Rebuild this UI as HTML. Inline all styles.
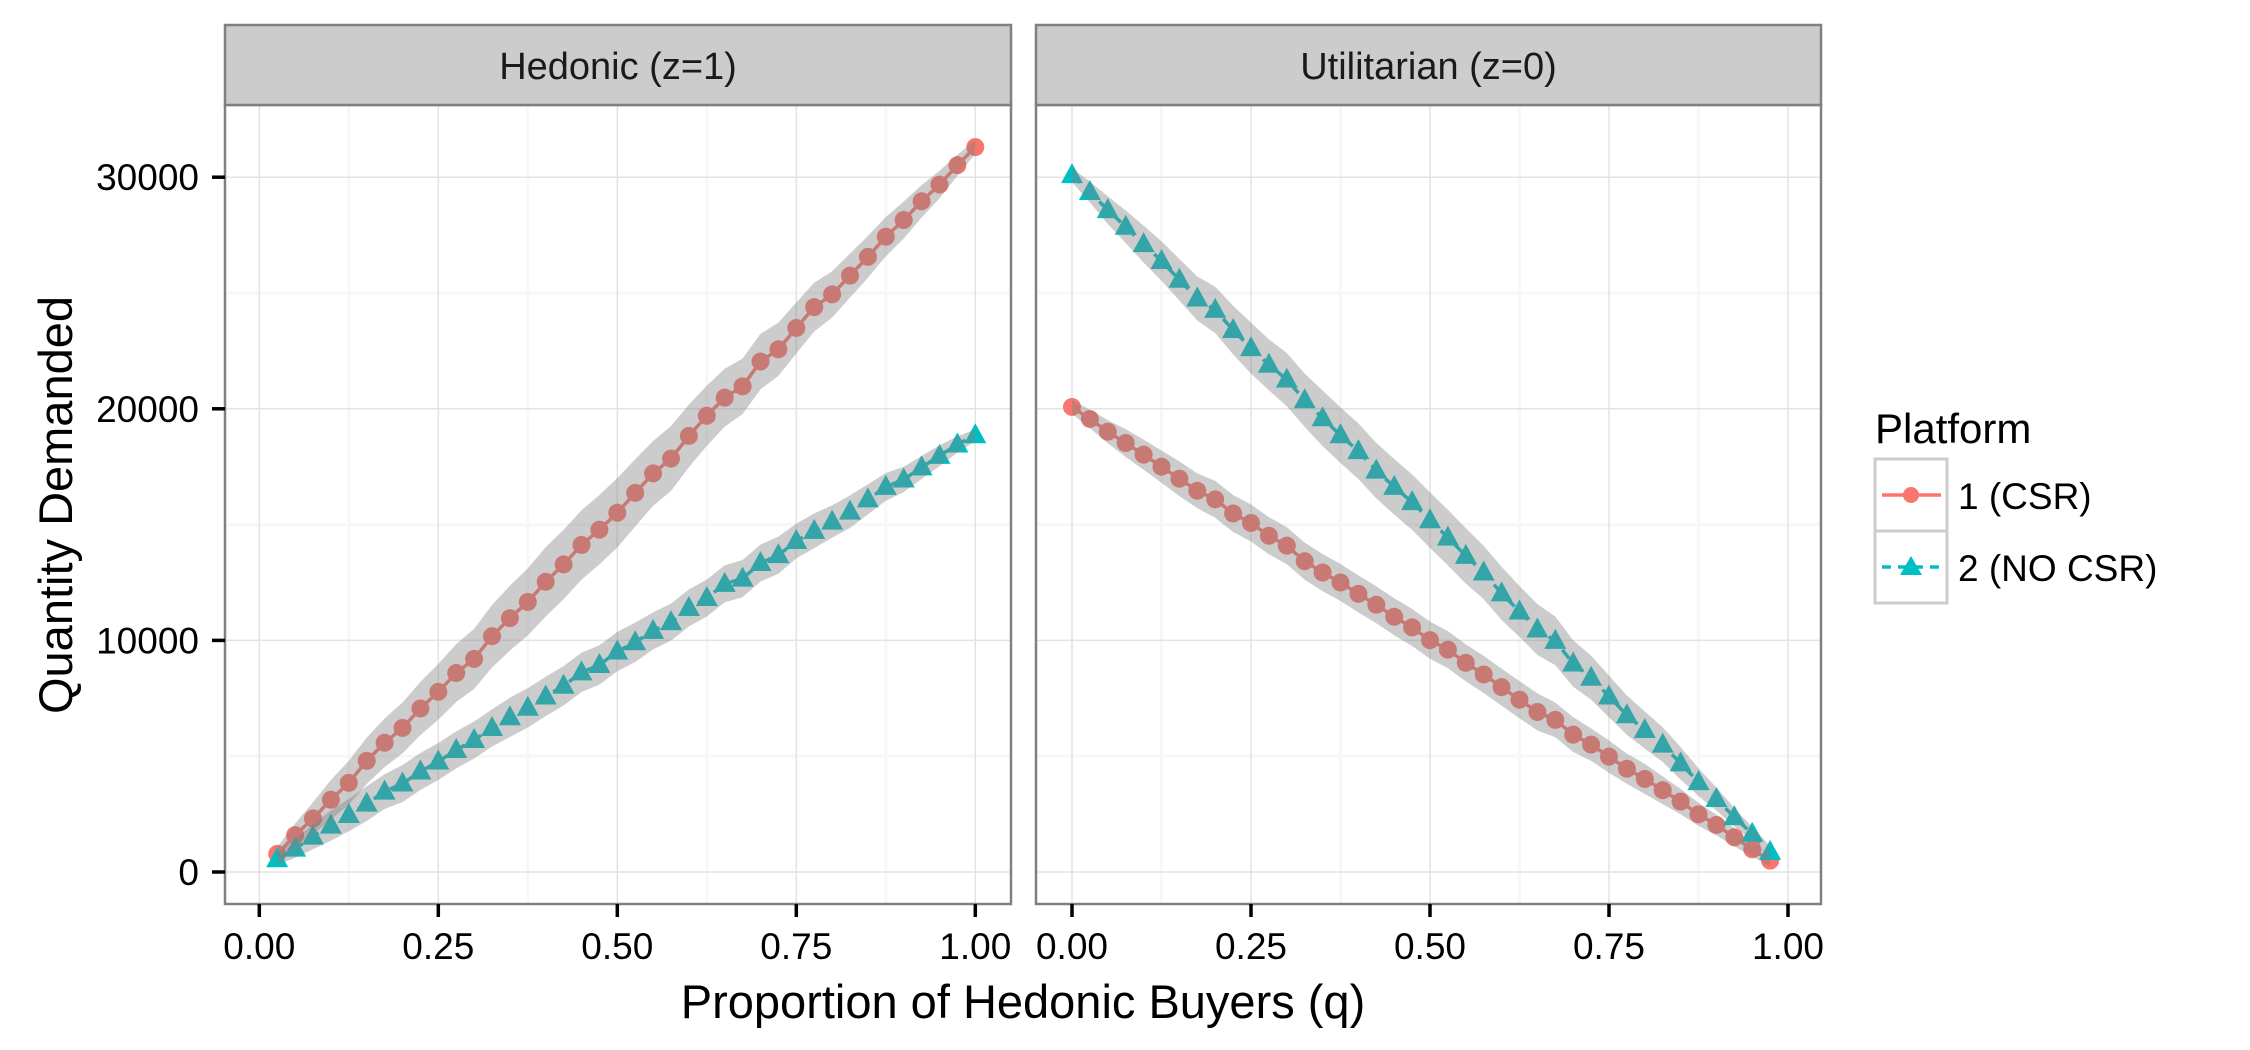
<!DOCTYPE html>
<html><head><meta charset="utf-8"><style>
html,body{margin:0;padding:0;background:#fff;}
svg{display:block;font-family:"Liberation Sans",Arial,sans-serif;}
</style></head><body>
<svg id="chart" width="2250" height="1050" viewBox="0 0 2250 1050" xmlns="http://www.w3.org/2000/svg"></svg>
<script>
const qHed = [0.025,0.05,0.075,0.1,0.125,0.15,0.175,0.2,0.225,0.25,0.275,0.3,0.325,0.35,0.375,0.4,0.425,0.45,0.475,0.5,0.525,0.55,0.575,0.6,0.625,0.65,0.675,0.7,0.725,0.75,0.775,0.8,0.825,0.85,0.875,0.9,0.925,0.95,0.975,1.0];
const qUtil = [0,0.025,0.05,0.075,0.1,0.125,0.15,0.175,0.2,0.225,0.25,0.275,0.3,0.325,0.35,0.375,0.4,0.425,0.45,0.475,0.5,0.525,0.55,0.575,0.6,0.625,0.65,0.675,0.7,0.725,0.75,0.775,0.8,0.825,0.85,0.875,0.9,0.925,0.95,0.975];
const hedCSR = [780,1590,2310,3120,3850,4800,5580,6220,7060,7780,8590,9200,10180,10960,11660,12530,13280,14120,14780,15510,16370,17210,17850,18830,19700,20480,20970,22040,22570,23490,24390,24940,25750,26560,27430,28150,28960,29680,30520,31300];
const hedNoCSR = [550,1010,1530,2000,2460,2950,3470,3820,4340,4770,5270,5700,6220,6680,7090,7580,8040,8620,8940,9520,9920,10410,10790,11400,11830,12440,12670,13340,13680,14290,14730,15130,15560,16090,16630,16950,17470,17970,18460,18860];
const utilCSR = [20080,19560,19010,18520,18020,17500,16980,16460,16090,15480,15070,14520,14090,13420,12930,12500,12010,11540,11020,10560,10010,9600,9030,8530,7980,7440,6910,6570,5930,5500,4980,4460,4020,3530,3040,2490,2030,1500,980,490];
const utilNoCSR = [30090,29360,28580,27860,27110,26380,25570,24760,24270,23400,22620,21900,21260,20370,19590,18860,18170,17330,16630,15970,15190,14440,13650,12930,12030,11250,10470,9980,9000,8390,7580,6770,6130,5500,4690,3880,3150,2370,1650,870];
const bandHedCSR = [300,500,700,850,950,1000,1050,1100,1150,1200,1250,1300,1350,1400,1450,1500,1500,1500,1500,1500,1450,1400,1400,1350,1300,1250,1200,1200,1150,1100,1050,1000,950,900,850,800,700,600,450,300];
const bandHedNoCSR = [250,400,550,650,700,750,750,800,800,800,800,800,800,850,850,850,850,850,850,850,850,800,800,800,800,800,800,800,800,750,750,700,700,650,600,550,500,450,350,250];
const bandUtilCSR = [300,400,500,600,650,700,750,750,800,800,800,800,800,800,800,800,800,800,800,800,800,800,800,800,800,800,800,750,750,700,700,650,650,600,550,500,450,400,300,250];
const bandUtilNoCSR = [300,450,600,700,800,850,900,950,1000,1050,1100,1100,1150,1150,1200,1200,1200,1200,1200,1200,1200,1200,1200,1150,1150,1100,1100,1050,1000,950,900,850,800,750,700,600,500,400,300,250];
const xTicks = [0,0.25,0.5,0.75,1];
const xTickLabels = ["0.00","0.25","0.50","0.75","1.00"];
const yTicks = [0,10000,20000,30000];
const yTickLabels = ["0","10000","20000","30000"];

const NS="http://www.w3.org/2000/svg";
const svg=document.getElementById('chart');
function mk(tag,attrs,parent){const e=document.createElementNS(NS,tag);for(const k in attrs)e.setAttribute(k,attrs[k]);(parent||svg).appendChild(e);return e;}
const yScale=v=>872-v*231.6/10000;
const panels=[
 {left:225,right:1011,x0:259.3,title:"Hedonic (z=1)",name:"hedonic",q:qHed,red:hedCSR,teal:hedNoCSR,rb:bandHedCSR,tb:bandHedNoCSR},
 {left:1036,right:1821,x0:1072,title:"Utilitarian (z=0)",name:"utilitarian",q:qUtil,red:utilCSR,teal:utilNoCSR,rb:bandUtilCSR,tb:bandUtilNoCSR}
];
const pTop=105,pBottom=904,stripTop=25;
const RED="#F8766D",TEAL="#00BFC4";
panels.forEach((p,pi)=>{
 const xs=v=>p.x0+v*716;
 const g=mk('g',{});
 
 
 mk('rect',{x:p.left,y:pTop,width:p.right-p.left,height:pBottom-pTop,fill:'#fff'},g);
 for(let i=0;i<xTicks.length-1;i++){const m=(xTicks[i]+xTicks[i+1])/2;mk('line',{x1:xs(m),x2:xs(m),y1:pTop,y2:pBottom,stroke:'#f7f7f7','stroke-width':3},g);}
 for(let i=0;i<yTicks.length-1;i++){const m=(yTicks[i]+yTicks[i+1])/2;mk('line',{x1:p.left,x2:p.right,y1:yScale(m),y2:yScale(m),stroke:'#f7f7f7','stroke-width':3},g);}
 xTicks.forEach(t=>{const l=mk('line',{x1:xs(t),x2:xs(t),y1:pTop,y2:pBottom,stroke:'#e3e3e3','stroke-width':1.5},g);});
 yTicks.forEach(t=>{const l=mk('line',{x1:p.left,x2:p.right,y1:yScale(t),y2:yScale(t),stroke:'#e3e3e3','stroke-width':1.5},g);});
 function series(vals,color,dash,name){
  const pts=vals.map((v,i)=>xs(p.q[i])+','+yScale(v)).join(' ');
  const pl=mk('polyline',{points:pts,fill:'none',stroke:color,'stroke-width':3.5,'stroke-dasharray':dash||'none'},g);
  
  
 }
 function points(vals,color,shape,name){
  vals.forEach((v,i)=>{
   const x=xs(p.q[i]),y=yScale(v);let e;
   if(shape==='c')e=mk('circle',{cx:x,cy:y,r:9,fill:color},g);
   else e=mk('polygon',{points:`${x},${y-12} ${x-11},${y+8} ${x+11},${y+8}`,fill:color},g);
   
   
  });
 }
 series(p.red,RED,null,'csr');points(p.red,RED,'c','csr');
 series(p.teal,TEAL,'11 8','no-csr');points(p.teal,TEAL,'t','no-csr');
 function ribbon(vals,band,name){
  const up=vals.map((v,i)=>xs(p.q[i])+','+yScale(v+band[i]));
  const lo=vals.map((v,i)=>xs(p.q[i])+','+yScale(v-band[i])).reverse();
  const r=mk('polygon',{points:up.concat(lo).join(' '),fill:'#7f7f7f','fill-opacity':0.4},g);
  
  
 }
 ribbon(p.red,p.rb,'csr');ribbon(p.teal,p.tb,'no-csr');
 mk('rect',{x:p.left,y:pTop,width:p.right-p.left,height:pBottom-pTop,fill:'none',stroke:'#808080','stroke-width':2.5},g);
 const s=mk('rect',{x:p.left,y:stripTop,width:p.right-p.left,height:pTop-stripTop,fill:'#cccccc',stroke:'#808080','stroke-width':2.5});
 
 const st=mk('text',{x:(p.left+p.right)/2,y:79,'text-anchor':'middle','font-size':38,fill:'#1a1a1a'});st.textContent=p.title;
 
 xTicks.forEach((t,i)=>{
  mk('line',{x1:xs(t),x2:xs(t),y1:pBottom,y2:pBottom+13,stroke:'#000','stroke-width':3.5});
  const tx=mk('text',{x:xs(t),y:959,'text-anchor':'middle','font-size':37,fill:'#000'});tx.textContent=xTickLabels[i];
  
 });
 if(pi===0){
  yTicks.forEach((t,i)=>{
   mk('line',{x1:p.left-13,x2:p.left,y1:yScale(t),y2:yScale(t),stroke:'#000','stroke-width':3.5});
   const tx=mk('text',{x:199,y:yScale(t)+13,'text-anchor':'end','font-size':37,fill:'#000'});tx.textContent=yTickLabels[i];
   
  });
 }
});
const xt=mk('text',{x:1023,y:1018,'text-anchor':'middle','font-size':47,fill:'#000'});xt.textContent="Proportion of Hedonic Buyers (q)";

const yt=mk('text',{x:0,y:0,'text-anchor':'middle','font-size':47,fill:'#000',transform:'translate(72,505) rotate(-90)'});yt.textContent="Quantity Demanded";

const lg=mk('g',{});

const lt=mk('text',{x:1875,y:443,'font-size':42,fill:'#000'},lg);lt.textContent="Platform";

const keys=[{c:RED,l:"1 (CSR)",d:null,s:'c'},{c:TEAL,l:"2 (NO CSR)",d:'9 7',s:'t'}];
keys.forEach((k,i)=>{
 const y0=459+i*72;
 const kb=mk('rect',{x:1875,y:y0,width:72,height:72,fill:'#fff',stroke:'#cccccc','stroke-width':3},lg);
 
 const cy=y0+36;
 mk('line',{x1:1882,x2:1941,y1:cy,y2:cy,stroke:k.c,'stroke-width':3.5,'stroke-dasharray':k.d||'none'},lg);
 if(k.s==='c')mk('circle',{cx:1911,cy:cy,r:8,fill:k.c},lg);
 else mk('polygon',{points:`1911,${cy-11} 1900,${cy+8} 1922,${cy+8}`,fill:k.c},lg);
 const t=mk('text',{x:1958,y:cy+14,'font-size':37,fill:'#000'},lg);t.textContent=k.l;
 
});
</script>
</body></html>
